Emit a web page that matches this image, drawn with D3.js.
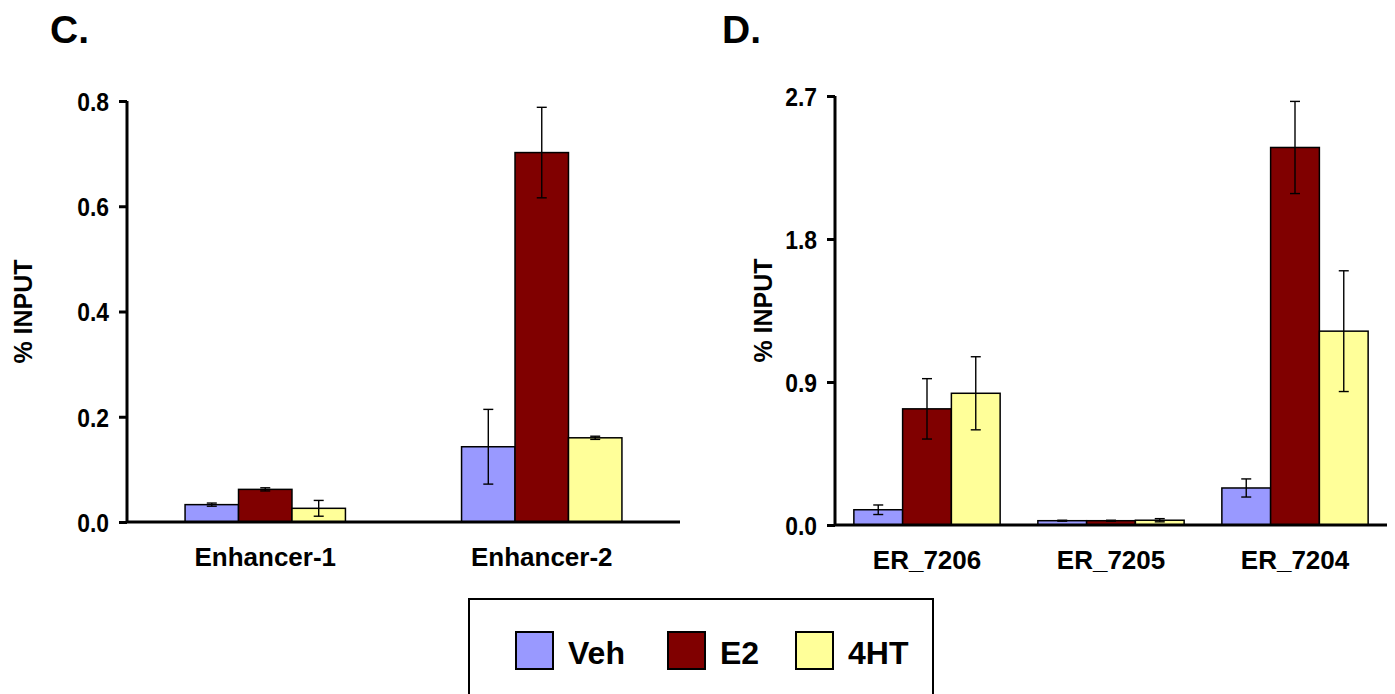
<!DOCTYPE html>
<html>
<head>
<meta charset="utf-8">
<script src="https://cdn.jsdelivr.net/npm/d3@7"></script>
<style>
  html, body { margin: 0; padding: 0; background: #fff; }
  svg { display: block; }
  svg text { font-family: "Liberation Sans", Arial, sans-serif; font-weight: bold; fill: #000; }
</style>
</head>
<body>
<svg id="chart" width="1395" height="694"></svg>
<script>
// Series shared by both panels
const series = ["Veh", "E2", "4HT"];
const seriesColors = ["#9999FF", "#800000", "#FFFF99"];

// Panel C
const catsC = ["Enhancer-1", "Enhancer-2"];
const valsC = {
  "Veh": [0.033, 0.143],
  "E2":  [0.062, 0.702],
  "4HT": [0.026, 0.160]
};
const errC = {
  "Veh": [0.003, 0.071],
  "E2":  [0.003, 0.086],
  "4HT": [0.015, 0.003]
};
const ticksC = [0.0, 0.2, 0.4, 0.6, 0.8];

// Panel D
const catsD = ["ER_7206", "ER_7205", "ER_7204"];
const valsD = {
  "Veh": [0.096, 0.027, 0.233],
  "E2":  [0.731, 0.027, 2.376],
  "4HT": [0.829, 0.030, 1.220]
};
const errD = {
  "Veh": [0.030, 0.003, 0.057],
  "E2":  [0.190, 0.003, 0.290],
  "4HT": [0.230, 0.010, 0.380]
};
const ticksD = [0.0, 0.9, 1.8, 2.7];

const svg = d3.select("#chart");

function panel(opt) {
  const { cats, vals, errs, ticks, x0, x1, y0, y1, groupFrac, letter, letterX, ylabelX } = opt;
  const g = svg.append("g");

  const y = d3.scaleLinear().domain([0, d3.max(ticks)]).range([y0, y1]);
  const x = d3.scaleBand().domain(cats).range([x0, x1]).padding(0);
  const gw = x.bandwidth() * groupFrac;
  const xs = d3.scaleBand().domain(series)
    .range([(x.bandwidth() - gw) / 2, (x.bandwidth() + gw) / 2]).padding(0);

  // bars
  series.forEach((s, si) => {
    const grp = g.append("g");
    grp.selectAll("rect").data(cats).enter().append("rect")
      .attr("x", d => x(d) + xs(s))
      .attr("y", (d, i) => y(vals[s][i]))
      .attr("width", xs.bandwidth())
      .attr("height", (d, i) => y(0) - y(vals[s][i]))
      .attr("fill", seriesColors[si])
      .attr("stroke", "#000").attr("stroke-width", 1.5);

    // error bars
    const eb = grp.selectAll(".eb").data(cats).enter().append("g").attr("class", "eb")
      .attr("stroke", "#000").attr("stroke-width", 1.4);
    const cx = d => x(d) + xs(s) + xs.bandwidth() / 2;
    eb.append("line")
      .attr("x1", cx).attr("x2", cx)
      .attr("y1", (d, i) => y(vals[s][i] + errs[s][i]))
      .attr("y2", (d, i) => y(vals[s][i] - errs[s][i]));
    [1, -1].forEach(sign => {
      eb.append("line")
        .attr("x1", d => cx(d) - 5).attr("x2", d => cx(d) + 5)
        .attr("y1", (d, i) => y(vals[s][i] + sign * errs[s][i]))
        .attr("y2", (d, i) => y(vals[s][i] + sign * errs[s][i]));
    });
  });

  // y axis
  const ya = g.append("g").attr("transform", `translate(${x0},0)`)
    .call(d3.axisLeft(y).tickValues(ticks).tickFormat(d3.format(".1f")).tickSize(8).tickPadding(10));
  ya.select(".domain").attr("stroke-width", 3).attr("d", `M0,${y0}V${y1}`);
  ya.selectAll(".tick line").attr("stroke-width", 3);
  ya.selectAll(".tick text")
    .attr("font-size", 26).attr("dy", "0.36em")
    .each(function () {
      // condensed look of the original tick labels
      const w = this.getComputedTextLength();
      d3.select(this).attr("textLength", w * 0.88).attr("lengthAdjust", "spacingAndGlyphs");
    });

  // x axis
  const xa = g.append("g").attr("transform", `translate(0,${y0})`)
    .call(d3.axisBottom(x).tickSize(0).tickPadding(26));
  xa.select(".domain").attr("stroke-width", 3).attr("d", `M${x0},0H${x1}`);
  xa.selectAll(".tick text").attr("font-size", 26);

  // y label
  g.append("text")
    .attr("transform", `translate(${ylabelX},${(y0 + y1) / 2}) rotate(-90)`)
    .attr("text-anchor", "middle").attr("font-size", 25)
    .text("% INPUT");

  // panel letter
  g.append("text").attr("x", letterX).attr("y", 43)
    .attr("font-size", 39).text(letter);
}

panel({ cats: catsC, vals: valsC, errs: errC, ticks: ticksC,
  x0: 127, x1: 680, y0: 522, y1: 101, groupFrac: 0.58,
  letter: "C.", letterX: 50, ylabelX: 32 });

panel({ cats: catsD, vals: valsD, errs: errD, ticks: ticksD,
  x0: 835, x1: 1387, y0: 525, y1: 96, groupFrac: 0.795,
  letter: "D.", letterX: 722, ylabelX: 772 });

// legend
const leg = svg.append("g");
leg.append("rect").attr("x", 469).attr("y", 599).attr("width", 464).attr("height", 110)
  .attr("fill", "#fff").attr("stroke", "#000").attr("stroke-width", 2);
const legX = d3.scaleOrdinal().domain(series).range([516, 668, 796]);
const items = leg.selectAll(".li").data(series).enter().append("g")
  .attr("transform", d => `translate(${legX(d)},632)`);
items.append("rect").attr("width", 37).attr("height", 37)
  .attr("fill", (d, i) => seriesColors[i]).attr("stroke", "#000").attr("stroke-width", 2);
items.append("text").attr("x", 52).attr("y", 32).attr("font-size", 32).text(d => d);
</script>
</body>
</html>
